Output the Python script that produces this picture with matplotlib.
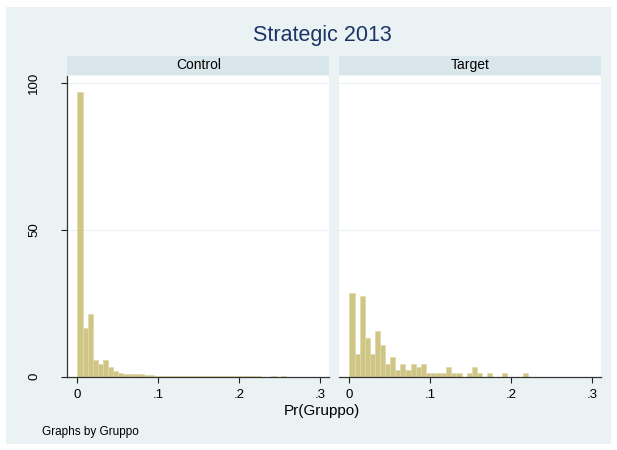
import matplotlib
matplotlib.use("Agg")
import matplotlib.pyplot as plt
import numpy as np
from matplotlib.patches import Rectangle

plt.rcParams["font.family"] = ["Liberation Sans", "DejaVu Sans"]

# density histogram of Pr(Gruppo) by group, bins start at 0
BIN_WIDTH = 0.0063
panels = ["Control", "Target"]
control_density = [97.0, 16.6, 21.4, 5.6, 4.4, 5.8, 3.3, 1.8, 1.1, 0.9,
                   0.9, 0.9, 0.8, 0.6, 0.5, 0.35, 0.3, 0.3, 0.25, 0.25,
                   0.25, 0.2, 0.2, 0.2, 0.2, 0.2, 0.2, 0.2, 0.2, 0.2,
                   0.2, 0.2, 0.2, 0.2, 0.2, 0.2, 0.0, 0.0, 0.2, 0.0, 0.2]
target_density = [28.6, 7.7, 27.5, 13.1, 7.7, 15.5, 10.9, 4.3, 6.6, 2.3,
                  4.4, 2.3, 4.4, 3.2, 4.4, 1.1, 1.1, 1.1, 1.1, 3.2,
                  1.1, 1.1, 0.0, 1.1, 3.2, 1.1, 0.0, 1.1, 0.0, 0.0,
                  1.1, 0.0, 0.0, 0.0, 1.1]
x_ticks = [0, 0.1, 0.2, 0.3]
x_ticklabels = ["0", ".1", ".2", ".3"]
y_ticks = [0, 50, 100]
y_ticklabels = ["0", "50", "100"]

BG = "#eaf2f3"
STRIP = "#d9e6eb"
BAR = "#cfc585"
BAR_EDGE = "#dfd9a8"
NAVY = "#1c3366"

W, H = 617, 450
fig = plt.figure(figsize=(W / 100, H / 100), dpi=100)
fig.patch.set_facecolor("white")
fig.patches.append(Rectangle((6 / W, 1 - 444 / H), 605 / W, 437 / H,
                             transform=fig.transFigure, facecolor=BG,
                             edgecolor="none", zorder=-5))


def px_box(x0, y0, x1, y1):
    return [x0 / W, 1 - y1 / H, (x1 - x0) / W, (y1 - y0) / H]


lefts = [67.3, 339.3]
axes = []
for k, (name, vals) in enumerate(zip(panels, [control_density, target_density])):
    x0 = lefts[k]
    x1 = x0 + 262
    ax = fig.add_axes(px_box(x0, 76, x1, 376.7))
    ax.set_facecolor("white")
    edges = np.arange(len(vals)) * BIN_WIDTH
    ax.bar(edges, vals, width=BIN_WIDTH, align="edge", color=BAR,
           edgecolor=BAR_EDGE, linewidth=0.5, zorder=2)
    ax.set_xlim(-0.0125, 0.3113)
    ax.set_ylim(0, 102.5)
    for g in (50, 100):
        ax.axhline(g, color=BG, lw=0.9, zorder=1)
    ax.set_xticks(x_ticks)
    ax.set_xticklabels(x_ticklabels, fontsize=9.5)
    ax.tick_params(axis="x", length=4.5, width=0.8, pad=4, color="#222222")
    for s in ("top", "right"):
        ax.spines[s].set_visible(False)
    ax.spines["bottom"].set_color("#333333")
    ax.spines["bottom"].set_linewidth(0.9)
    if k == 0:
        ax.set_yticks(y_ticks)
        ax.set_yticklabels(y_ticklabels, fontsize=9.5, rotation=90, va="center")
        ax.tick_params(axis="y", length=4.5, width=0.8, pad=15, color="#222222")
        ax.spines["left"].set_color("#333333")
        ax.spines["left"].set_linewidth(0.9)
    else:
        ax.set_yticks([])
        ax.spines["left"].set_visible(False)

    # strip header
    sax = fig.add_axes(px_box(x0, 55.7, x1, 75))
    sax.set_facecolor(STRIP)
    sax.set_xticks([])
    sax.set_yticks([])
    for s in sax.spines.values():
        s.set_visible(False)
    sax.text(0.5, 0.5, name, ha="center", va="center", fontsize=10,
             transform=sax.transAxes)
    axes.append(ax)

fig.text(322 / W, 1 - 35 / H, "Strategic 2013", ha="center", va="center",
         fontsize=15.5, color=NAVY)
fig.text(322 / W, 1 - 411 / H, "Pr(Gruppo)", ha="center", va="center",
         fontsize=11)
fig.text(42 / W, 1 - 432 / H, "Graphs by Gruppo", ha="left", va="center",
         fontsize=8.5)

fig.savefig("out.png", dpi=100, facecolor=fig.get_facecolor())
